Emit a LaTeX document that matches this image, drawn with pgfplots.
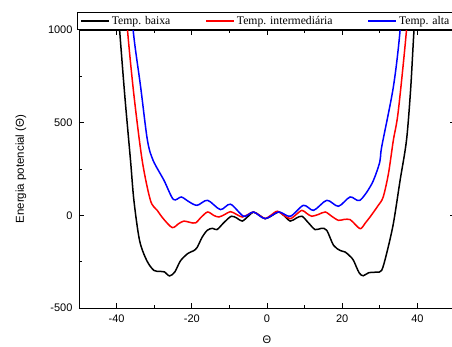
\documentclass[border=0pt]{standalone}
\usepackage{pgfplots}
\pgfplotsset{compat=1.18}
\usepackage{fontspec}
\setmainfont{Liberation Sans}
\newfontfamily\legendfont{Liberation Serif}
\begin{document}
\begin{tikzpicture}
\begin{axis}[
  name=ax,
  scale only axis, width=376bp, height=278bp,
  xmin=-50, xmax=50, ymin=-500, ymax=1000,
  xtick={-40,-20,0,20,40}, minor x tick num=1,
  ytick={-500,0,500,1000}, minor y tick num=1,
  tick align=inside, major tick length=5bp, minor tick length=3bp,
  tick style={black, line width=0.8bp},
  axis line style={line width=0.8bp},
  ticklabel style={font=\fontsize{11bp}{13bp}\selectfont},
  xticklabel style={anchor=north, yshift=-3bp},
  yticklabel style={anchor=east, xshift=-3bp},
  /pgf/number format/assume math mode=true,
  /pgf/number format/1000 sep={},
  every axis x label/.style={at={(rel axis cs:0.5,0)}, anchor=center, yshift=-32bp, font=\fontsize{11bp}{13bp}\selectfont},
  every axis y label/.style={at={(rel axis cs:0,0.5)}, anchor=center, rotate=90, yshift=58bp, font=\fontsize{11.5bp}{13bp}\selectfont},
  xlabel={Θ}, ylabel={Energia potencial (Θ)},
  legend style={at={(rel axis cs:0,1)}, anchor=south west, xshift=-2bp, draw=black, line width=0.6bp,
    font=\legendfont\fontsize{11.7bp}{13bp}\selectfont, inner ysep=2bp, inner xsep=3bp,
    /tikz/every even column/.append style={column sep=33bp}},
  legend columns=3, legend cell align=left,
  legend image code/.code={\draw[#1, line width=1.5bp] (0bp,0bp) -- (28bp,0bp);},
]
\addplot[black, line width=1.5bp, smooth] coordinates {
(-40.5,1350) (-39.2,1000) (-37.8,640) (-36.3,297) (-35.4,81) (-33.9,-135) (-32,-243)
(-30.1,-297) (-28.5,-302) (-27.3,-305) (-25.9,-327) (-24.5,-305) (-23,-245) (-21,-205)
(-19.6,-192) (-18.6,-174) (-17.3,-120) (-15.9,-81) (-14.5,-70) (-13.3,-77) (-11.5,-40)
(-9.5,-5) (-8,-15) (-6.6,-31) (-5,-5) (-3.6,18) (-2,0) (-0.5,-18) (1,-5) (3.1,18)
(4.7,-5) (6.2,-31) (7.8,-15) (9.3,-5) (11,-40) (12.8,-77) (14.5,-70) (15.9,-81)
(17.7,-162) (19.5,-190) (20.8,-198) (22.1,-221) (23,-243) (24.5,-310) (25.6,-326)
(27,-310) (29.2,-306) (30.5,-297) (31.8,-207) (33.6,-45) (35.4,189) (37.1,405)
(38.2,680) (39.1,1000) (40.3,1350)
};
\addlegendentry{Temp. baixa}
\addplot[red, line width=1.5bp, smooth] coordinates {
(-38.3,1350) (-37.1,1000) (-35.4,650) (-33.2,297) (-31,81) (-29.2,27) (-27.5,-20)
(-25.2,-66) (-23.5,-45) (-22.1,-31) (-20.5,-38) (-19,-41) (-17.5,-10) (-15.8,18)
(-14.2,0) (-12.8,-9) (-11.2,5) (-9.7,20) (-8.1,5) (-6.6,-9) (-5,5) (-3.6,18) (-2,0)
(-0.5,-18) (1,0) (2.7,22) (4.5,0) (6.2,-18) (7.8,5) (9.3,27) (10.6,10) (11.9,-5)
(13.7,5) (15.5,18) (17.2,-5) (19,-27) (20.5,-22) (22.1,-23) (23.5,-50) (24.9,-72)
(26.2,-40) (27.4,-9) (29.6,54) (30.9,99) (32.3,225) (33.6,405) (34.9,560) (37.1,1000)
(38.2,1350)
};
\addlegendentry{Temp. intermediária}
\addplot[blue, line width=1.5bp, smooth] coordinates {
(-36.7,1350) (-35.6,1000) (-33.6,692) (-31.8,405) (-30.3,297) (-27.4,189) (-24.9,86)
(-22.8,99) (-20.9,75) (-18.6,54) (-15.8,81) (-12.4,31) (-9.7,60) (-6.2,-5) (-3.6,18)
(-0.5,-18) (3.1,18) (6.2,-5) (9.7,54) (12.4,27) (15.9,81) (19,49) (22.1,99) (24.7,81)
(27.9,171) (30,288) (30.5,369) (33.6,692) (35.4,1000) (36.4,1350)
};
\addlegendentry{Temp. alta}
\end{axis}
\pgfresetboundingbox
\path[use as bounding box] ([xshift=-79bp,yshift=-39bp]ax.south west) rectangle ([xshift=373bp,yshift=308bp]ax.south west);
\end{tikzpicture}
\end{document}
